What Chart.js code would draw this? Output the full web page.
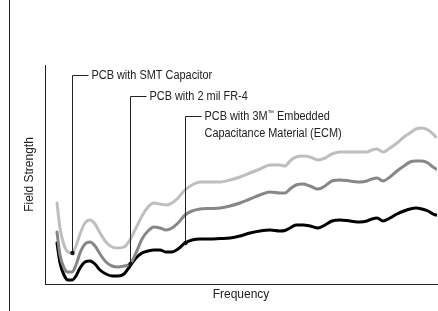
<!DOCTYPE html>
<html>
<head>
<meta charset="utf-8">
<script src="https://cdn.jsdelivr.net/npm/chart.js@4"></script>
<style>
    body { margin: 0; background: #fff; }
    #wrap { position: relative; width: 438px; height: 311px; }
    #edge { position: absolute; left: 9px; top: 0; width: 1px; height: 311px; background: #222; }
</style>
</head>
<body>
<div id="wrap">
    <canvas id="field-plot" width="438" height="311"></canvas>
    <div id="edge"></div>
</div>
<script>
// frequency (arbitrary units) and field strength
const frequency = [12, 15, 19, 23, 27, 31, 35, 40, 45, 50, 55, 61, 67, 73, 79, 85, 91, 97, 103, 109,
    115, 121, 127, 133, 140, 147, 155, 165, 175, 185, 195, 205, 215, 225, 235, 240, 245, 251, 258, 265,
    273, 280, 287, 295, 305, 315, 322, 327, 332, 338, 345, 352, 359, 365, 371, 377, 383, 388, 391];

const smtCapacitor = [81, 56, 39, 32, 31, 38, 50, 61, 64, 60, 51, 42, 37, 36, 37, 44, 56, 68, 77, 81,
    80, 79, 81, 86, 94, 99, 102, 102, 102, 104, 107, 111, 115, 119, 119, 118, 123, 127, 128, 127,
    124, 126, 130, 132, 132, 132, 132, 134, 135, 132, 136, 141, 147, 151, 155, 156, 154, 150, 147];

const fr4 = [52, 29, 16, 12, 12, 19, 31, 40, 42, 38, 30, 22, 18, 17, 18, 20, 31, 45, 53, 57,
    56, 54, 56, 61, 69, 73, 75, 75.5, 76, 78, 81, 85, 89, 92, 91, 91, 95, 99, 100, 98,
    95, 98, 103, 104, 103, 102, 103, 105, 106, 103, 107, 113, 118, 122, 123, 123, 121, 117, 115];

const ecm = [41, 21, 9, 4, 4, 8, 16, 22, 23, 20, 14, 10, 8, 8, 10, 18, 26, 31, 33, 34,
    34, 32, 32, 35, 41, 44, 45, 45, 45.5, 46, 48, 51, 53, 54, 53, 53.5, 56, 59, 59, 58,
    56, 59, 63, 64, 63, 62, 63, 65, 66, 63, 66, 70, 73, 75, 76, 75, 73, 70, 69];

const seriesNames = ['PCB with SMT Capacitor', 'PCB with 2 mil FR-4', 'PCB with 3M™ Embedded Capacitance Material (ECM)'];

// callouts: which series / point they point at, and the height of the label
const callouts = [
    { lines: ['PCB with SMT Capacitor'], series: 0, index: 4, labelY: 209 },
    { lines: ['PCB with 2 mil FR-4'], series: 1, index: 15, labelY: 188 },
    { lines: ['PCB with 3M\u2122 Embedded', 'Capacitance Material (ECM)'], series: 2, index: 24, labelY: 168 },
];

const FONT = '"Liberation Sans", Arial, sans-serif';

function toPoints(ys) {
    return frequency.map((x, i) => ({ x: x, y: ys[i] }));
}

// draws a line of text, with the ™ sign set small and raised
function drawLabel(ctx, text, x, y) {
    const parts = text.split('\u2122');
    let cx = x;
    parts.forEach((p, i) => {
        ctx.font = '12px ' + FONT;
        ctx.fillText(p, cx, y);
        cx += ctx.measureText(p).width;
        if (i < parts.length - 1) {
            ctx.font = '7px ' + FONT;
            ctx.fillText('\u2122', cx, y - 3.5);
            cx += ctx.measureText('\u2122').width;
        }
    });
}

const calloutPlugin = {
    id: 'callouts',
    afterDatasetsDraw(chart) {
        const ctx = chart.ctx;
        const xs = chart.scales.x;
        const ys = chart.scales.y;
        ctx.save();
        callouts.forEach(c => {
            const pt = chart.data.datasets[c.series].data[c.index];
            const px = Math.round(xs.getPixelForValue(pt.x)) + 0.5;
            const py = ys.getPixelForValue(pt.y);
            const ly = Math.round(ys.getPixelForValue(c.labelY)) + 0.5;
            ctx.strokeStyle = '#222';
            ctx.lineWidth = 1;
            ctx.beginPath();
            ctx.moveTo(px, py);
            ctx.lineTo(px, ly);
            ctx.lineTo(px + 16, ly);
            ctx.stroke();
            ctx.fillStyle = '#111';
            ctx.beginPath();
            ctx.arc(px, py, 2.2, 0, Math.PI * 2);
            ctx.fill();
            // condensed look: squeeze the text a bit
            ctx.save();
            ctx.translate(px + 19, ly);
            ctx.scale(0.91, 1);
            ctx.textAlign = 'left';
            ctx.textBaseline = 'middle';
            ctx.fillStyle = '#222';
            c.lines.forEach((t, i) => drawLabel(ctx, t, 0, i * 17));
            ctx.restore();
        });
        ctx.restore();
    }
};

new Chart(document.getElementById('field-plot'), {
    type: 'line',
    data: {
        datasets: [
            { label: seriesNames[0], data: toPoints(smtCapacitor), borderColor: '#bebebe', borderWidth: 3 },
            { label: seriesNames[1], data: toPoints(fr4), borderColor: '#878787', borderWidth: 3 },
            { label: seriesNames[2], data: toPoints(ecm), borderColor: '#000000', borderWidth: 3 },
        ]
    },
    options: {
        responsive: false,
        animation: false,
        layout: { padding: { top: 65, right: 1, left: 0, bottom: 0 } },
        elements: {
            point: { radius: 0 },
            line: { cubicInterpolationMode: 'monotone', borderCapStyle: 'round', borderJoinStyle: 'round' }
        },
        plugins: { legend: { display: false }, tooltip: { enabled: false } },
        scales: {
            x: {
                type: 'linear',
                min: 0,
                max: 392,
                grid: { display: false, drawTicks: false },
                border: { display: true, color: '#222', width: 1 },
                ticks: { display: false },
                title: {
                    display: true,
                    text: 'Frequency',
                    color: '#222',
                    font: { size: 12, family: FONT },
                    padding: { top: 3.8, bottom: 8.8 }
                }
            },
            y: {
                min: 0,
                max: 219,
                grid: { display: false, drawTicks: false },
                border: { display: true, color: '#222', width: 1 },
                ticks: { display: false },
                title: {
                    display: true,
                    text: 'Field Strength',
                    color: '#222',
                    font: { size: 12, family: FONT },
                    padding: { top: 22.8, bottom: 7.8 }
                }
            }
        }
    },
    plugins: [calloutPlugin]
});
</script>
</body>
</html>
